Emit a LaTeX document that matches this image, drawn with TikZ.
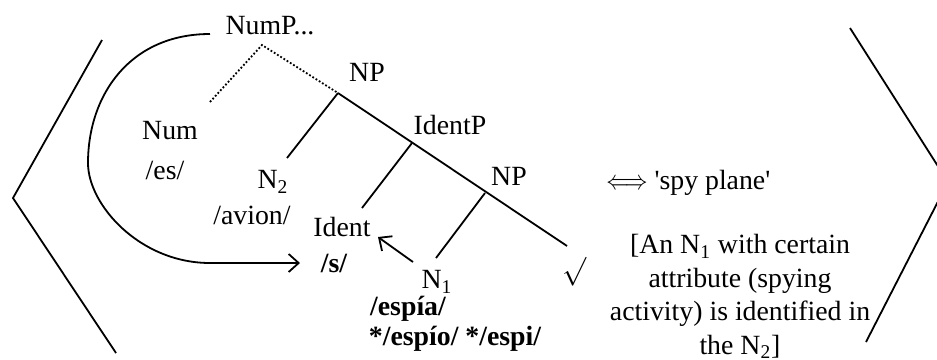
\documentclass[tikz,border=0pt]{standalone}
\usepackage{fontspec}
\setmainfont{Liberation Serif}[Ligatures=TeXOff]
\usetikzlibrary{arrows.meta}
\begin{document}
\begin{tikzpicture}[x=0.5pt,y=-0.5pt,
  lbl/.style={inner sep=0pt, font=\fontsize{13.9}{16.8}\selectfont},
  form/.style={inner sep=0pt, font=\fontsize{13.9}{16.8}\selectfont\bfseries},
  branch/.style={line width=0.9pt},
  dotbranch/.style={line width=0.9pt, densely dotted},
  bracket/.style={line width=0.9pt},
  move/.style={line width=0.9pt, -{Straight Barb[length=5pt,width=9pt]}}]
\useasboundingbox (0,0) rectangle (937,359);
\clip (0,0) rectangle (937,359);

% angle brackets around the whole structure
\draw[bracket] (102,40) -- (13,198) -- (116,353);
\draw[bracket] (850,28) -- (948,182) -- (866,342);

% labels of the tree
\node[lbl] (nump)   at (270,26)  {NumP...};
\node[lbl] (np1)    at (367,72)  {NP};
\node[lbl] (identp) at (450,125) {IdentP};
\node[lbl] (np2)    at (509,176) {NP};
\node[lbl] (num)    at (170,131) {Num};
\node[lbl] (es)     at (165,170) {/es/};
\node[lbl] (ntwo)   at (273,182) {N\textsubscript{2}};
\node[lbl] (avion)  at (252,215) {/avion/};
\node[lbl] (ident)  at (342,227) {Ident};
\node[form] (s)     at (334,263) {/s/};
\node[lbl] (none)   at (437,282) {N\textsubscript{1}};
\node[form] (espia) at (408,309) {/espía/};
\node[form] (stars) at (455,339) {*/espío/ */espi/};
\node[lbl] (root)   at (574,272) {$\surd$};

% branching points
\coordinate (jnump)   at (262,45);
\coordinate (jnp1)    at (338,93);
\coordinate (jidentp) at (412,143);
\coordinate (jnp2)    at (485,193);
\coordinate (enum)    at (210,102);
\coordinate (entwo)   at (287,158);
\coordinate (eident)  at (362,208);
\coordinate (enone)   at (436,258);
\coordinate (eroot)   at (567,246);

% branches
\draw[dotbranch] (enum) -- (jnump) -- (jnp1);
\draw[branch] (jnp1) -- (eroot);
\draw[branch] (jnp1) -- (entwo);
\draw[branch] (jidentp) -- (eident);
\draw[branch] (jnp2) -- (enone);

% movement arrows
\coordinate (cstart) at (210,34);
\coordinate (cend)   at (300,263);
\draw[move] (cstart) .. controls (130,34) and (88,95) .. (88,163)
  .. controls (88,205) and (140,263) .. (210,263) -- (cend);
\coordinate (astart) at (413,262);
\coordinate (aend)   at (378,237);
\draw[move] (astart) -- (aend);

% meaning
\node[lbl, anchor=west] (meaning) at (606,183)
  {\scalebox{0.78}[0.95]{$\Longleftrightarrow$} 'spy plane'};
\node[lbl, align=center, anchor=north] (gloss) at (740,234)
  {[An N\textsubscript{1} with certain\\attribute (spying\\activity) is identified in\\the N\textsubscript{2}]};
\end{tikzpicture}
\end{document}
